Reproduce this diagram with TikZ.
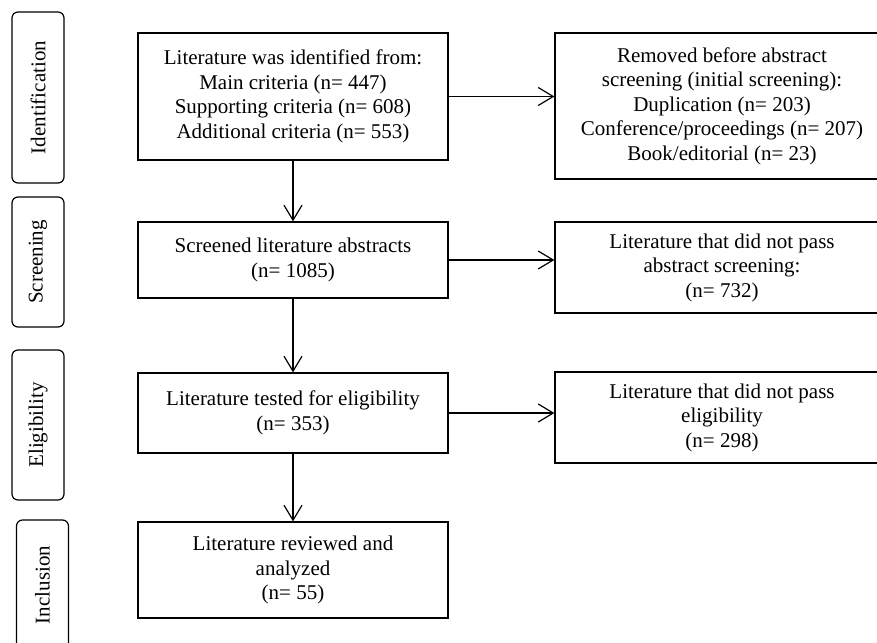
\documentclass[tikz,border=0pt]{standalone}
\usepackage{fontspec}
\setmainfont{Liberation Serif}
\usetikzlibrary{arrows.meta}
\begin{document}
\begin{tikzpicture}[x=1pt, y=-1pt, line width=1.2pt,
    >={Straight Barb[length=15pt,width=18pt]},
    box/.style={draw, rectangle, align=center, inner sep=0pt, minimum width=310pt, font=\fontsize{21}{24.5}\selectfont},
    side/.style={box, minimum width=334pt},
    stage/.style={draw, rounded corners=6pt, rotate=90, inner sep=0pt, minimum height=52pt, font=\fontsize{21}{24.5}\selectfont}]
    \def\L{293}
    \def\R{722}
    \useasboundingbox (0,0) rectangle (877,642);
    \clip (0,0) rectangle (877,642);
    % Stages
    \node[stage, minimum width=171pt] (sid) at (38,97.5) {Identification};
    \node[stage, minimum width=130pt] (sscr) at (38,262) {Screening};
    \node[stage, minimum width=150pt] (sel) at (38,425) {Eligibility};
    \node[stage, minimum width=130pt] (sinc) at (42.5,585) {Inclusion};

    % Main column
    \node[box, minimum height=127pt] (ident) at (\L,96.5) {Literature was identified from:\\ Main criteria (n= 447)\\ Supporting criteria (n= 608)\\ Additional criteria (n= 553)};
    \node[box, minimum height=76pt] (scr) at (\L,260) {Screened literature abstracts\\ (n= 1085)};
    \node[box, minimum height=80pt] (elig) at (\L,413) {Literature tested for eligibility\\ (n= 353)};
    \node[box, minimum height=96pt] (incl) at (\L,570) {Literature reviewed and\\ analyzed\\ (n= 55)};

    % Excluded
    \node[side, minimum height=146pt] (rem) at (\R,106) {Removed before abstract\\ screening (initial screening):\\ Duplication (n= 203)\\ Conference/proceedings (n= 207)\\ Book/editorial (n= 23)};
    \node[side, minimum height=91pt] (nscr) at (\R,267.5) {Literature that did not pass\\ abstract screening:\\ (n= 732)};
    \node[side, minimum height=91pt] (nelig) at (\R,417.5) {Literature that did not pass\\ eligibility\\ (n= 298)};

    % Arrows
    \draw[->] (ident) -- (scr);
    \draw[->] (scr) -- (elig);
    \draw[->] (elig) -- (incl);
    \draw[->] (ident.east) -- (ident.east -| rem.west);
    \draw[->] (scr.east) -- (scr.east -| nscr.west);
    \draw[->] (elig.east) -- (elig.east -| nelig.west);
\end{tikzpicture}
\end{document}
